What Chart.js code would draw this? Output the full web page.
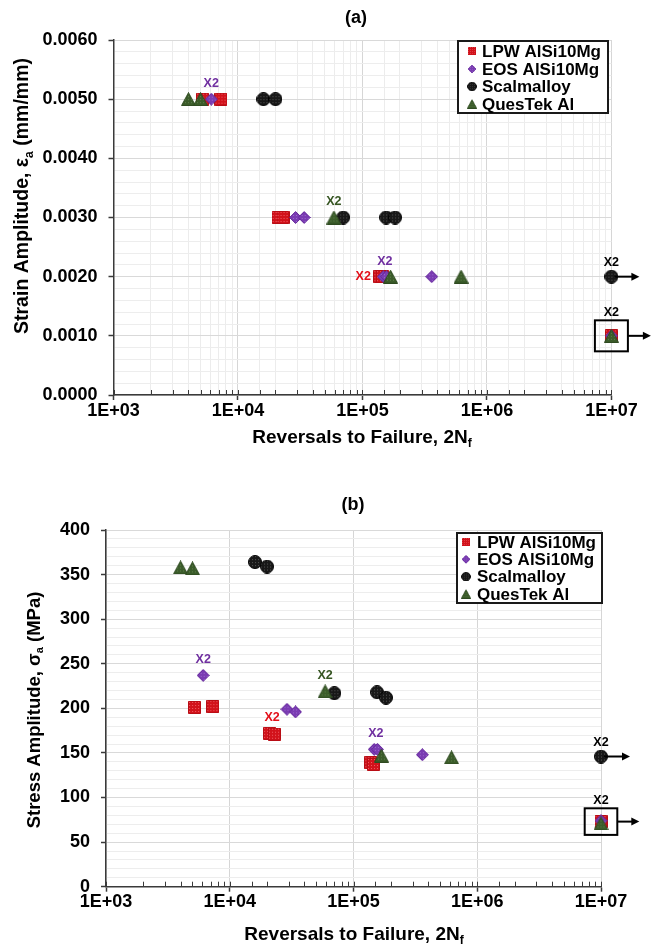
<!DOCTYPE html>
<html>
<head>
<meta charset="utf-8">
<title>Strain-life and stress-life of additively manufactured aluminium alloys</title>
<script src="https://cdn.jsdelivr.net/npm/chart.js@4.4.1/dist/chart.umd.min.js"></script>
<style>
  html, body { margin: 0; padding: 0; background: #ffffff; }
  #page { position: relative; width: 656px; height: 947px; overflow: hidden; }
  #page canvas { position: absolute; left: 0; }
  #strainChart { top: 0; }
  #stressChart { top: 470px; }
</style>
</head>
<body>
<div id="page">
  <canvas id="strainChart" width="656" height="470"></canvas>
  <canvas id="stressChart" width="656" height="477"></canvas>
</div>
<script>
// ---------------- data ----------------
const seriesNames = ['LPW AlSi10Mg', 'EOS AlSi10Mg', 'Scalmalloy', 'QuesTek Al'];

// reversals to failure, 2Nf (1E+07 = run-out)
const lpwReversals     = [5200, 7300, 21000, 23000, 138000, 145000, 1e7];
const eosReversals     = [6100, 29000, 34000, 147000, 156000, 360000, 1e7];
const scalReversals    = [16000, 20000, 70000, 155000, 183000, 1e7];
const questekReversals = [4000, 5000, 59000, 168000, 620000, 1e7];

// strain amplitude (mm/mm)
const lpwStrain     = [0.005, 0.005, 0.003, 0.003, 0.002, 0.002, 0.001];
const eosStrain     = [0.005, 0.003, 0.003, 0.002, 0.002, 0.002, 0.001];
const scalStrain    = [0.005, 0.005, 0.003, 0.003, 0.003, 0.002];
const questekStrain = [0.005, 0.005, 0.003, 0.002, 0.002, 0.001];

// stress amplitude (MPa)
const lpwStress     = [201, 202, 172, 171, 139, 137, 73];
const eosStress     = [237, 199, 196, 154, 154, 148, 74];
const scalStress    = [364, 359, 217, 218, 212, 146];
const questekStress = [358, 357, 219, 147, 145, 71];

// tick labels
const xTickLabels      = ['1E+03', '1E+04', '1E+05', '1E+06', '1E+07'];
const strainTickLabels = ['0.0000', '0.0010', '0.0020', '0.0030', '0.0040', '0.0050', '0.0060'];
const stressTickLabels = ['0', '50', '100', '150', '200', '250', '300', '350', '400'];

// "X2" call-outs: series index and the point indices that share the label
const strainCallouts = [
  { series: 1, points: [0], place: 'above' },
  { series: 3, points: [2], place: 'above' },
  { series: 0, points: [4, 5], place: 'left' },
  { series: 1, points: [3, 4], place: 'above' }
];
const stressCallouts = [
  { series: 1, points: [0], place: 'above' },
  { series: 3, points: [2], place: 'above' },
  { series: 0, points: [2, 3], place: 'above' },
  { series: 1, points: [3, 4], place: 'above' }
];
// run-outs: tests stopped at 1E+07 reversals without failure
const runouts = [
  { series: [2], points: [5], boxed: false, text: 'X2' },
  { series: [0, 1, 3], points: [6, 6, 5], boxed: true, text: 'X2' }
];

// ---------------- styling ----------------
const FONT = "'Liberation Sans', Arial, Helvetica, sans-serif";
const AXIS_INK = '#3a3a3a';
const reversals = [lpwReversals, eosReversals, scalReversals, questekReversals];

const markerStyles = [
  { shape: 'square',   w: 13, h: 13, base: '#d2121b', dot: '#ef5c64', edge: '#b80d15', ink: '#e3101a' },
  { shape: 'diamond',  w: 13, h: 13, base: '#7a3cb2', dot: '#9d6bd0', edge: '#66299c', ink: '#7030a0' },
  { shape: 'circle',   w: 14, h: 14, base: '#181818', dot: '#555555', edge: '#000000', ink: '#000000' },
  { shape: 'triangle', w: 15, h: 14, base: '#3b5c2a', dot: '#5e7f4b', edge: '#2e4a20', ink: '#375623' }
];

function dottedFill(ctx, base, dot) {
  const p = document.createElement('canvas');
  p.width = 3; p.height = 3;
  const c = p.getContext('2d');
  c.fillStyle = base; c.fillRect(0, 0, 3, 3);
  c.fillStyle = dot; c.fillRect(1, 1, 1, 1);
  return ctx.createPattern(p, 'repeat');
}

function makeMarker(st) {
  const c = document.createElement('canvas');
  c.width = st.w; c.height = st.h;
  const g = c.getContext('2d');
  const w = st.w, h = st.h;
  g.beginPath();
  if (st.shape === 'square') {
    g.rect(0.5, 0.5, w - 1, h - 1);
  } else if (st.shape === 'diamond') {
    g.moveTo(w / 2, 0.5); g.lineTo(w - 0.5, h / 2); g.lineTo(w / 2, h - 0.5); g.lineTo(0.5, h / 2); g.closePath();
  } else if (st.shape === 'circle') {
    g.arc(w / 2, h / 2, w / 2 - 0.5, 0, Math.PI * 2);
  } else {
    g.moveTo(w / 2, 0.5); g.lineTo(w - 0.5, h - 0.5); g.lineTo(0.5, h - 0.5); g.closePath();
  }
  g.fillStyle = dottedFill(g, st.base, st.dot);
  g.fill();
  g.strokeStyle = st.edge; g.lineWidth = 1; g.stroke();
  return c;
}
const markerImages = markerStyles.map(makeMarker);

function isDecade(v) {
  const l = Math.log10(v);
  return Math.abs(l - Math.round(l)) < 1e-6;
}

function drawRich(ctx, parts, cx, cy, size) {
  const main = 'bold ' + size + 'px ' + FONT;
  const sub = 'bold ' + Math.round(size * 0.62) + 'px ' + FONT;
  let total = 0;
  parts.forEach(p => { ctx.font = p.sub ? sub : main; p.w = ctx.measureText(p.t).width; total += p.w; });
  let x = cx - total / 2;
  ctx.textAlign = 'left';
  ctx.textBaseline = 'middle';
  parts.forEach(p => {
    ctx.font = p.sub ? sub : main;
    ctx.fillText(p.t, x, cy + (p.sub ? size * 0.32 : 0));
    x += p.w;
  });
}

function arrow(ctx, x0, y, x1) {
  ctx.beginPath();
  ctx.moveTo(x0, y); ctx.lineTo(x1 - 6, y);
  ctx.lineWidth = 2; ctx.strokeStyle = '#000'; ctx.stroke();
  ctx.beginPath();
  ctx.moveTo(x1, y); ctx.lineTo(x1 - 8, y - 4); ctx.lineTo(x1 - 8, y + 4); ctx.closePath();
  ctx.fillStyle = '#000'; ctx.fill();
}

function overlayPlugin(cfg) {
  return {
    id: 'overlay_' + cfg.key,
    afterDatasetsDraw(chart) {
      const ctx = chart.ctx, xs = chart.scales.x, ys = chart.scales.y;
      const area = chart.chartArea;
      const pt = (s, j) => ({
        x: xs.getPixelForValue(reversals[s][j]),
        y: ys.getPixelForValue(cfg.values[s][j])
      });
      ctx.save();

      // short inner tick marks on the reversal axis
      ctx.strokeStyle = AXIS_INK; ctx.lineWidth = 1;
      xs.ticks.forEach(t => {
        const px = Math.round(xs.getPixelForValue(t.value)) + 0.5;
        ctx.beginPath(); ctx.moveTo(px, area.bottom); ctx.lineTo(px, area.bottom - 5); ctx.stroke();
      });

      // "X2" call-outs
      ctx.font = 'bold 12.5px ' + FONT;
      ctx.textBaseline = 'middle';
      cfg.callouts.forEach(c => {
        const ps = c.points.map(j => pt(c.series, j));
        ctx.fillStyle = markerStyles[c.series].ink;
        if (c.place === 'left') {
          const minX = Math.min(...ps.map(p => p.x));
          ctx.textAlign = 'right';
          ctx.fillText('X2', minX - 9, ps[0].y);
        } else {
          const mx = ps.reduce((a, p) => a + p.x, 0) / ps.length;
          const minY = Math.min(...ps.map(p => p.y));
          ctx.textAlign = 'center';
          ctx.fillText('X2', mx, minY - 15.5);
        }
      });

      // run-out markers with arrows
      runouts.forEach(r => {
        const ps = r.series.map((s, k) => pt(s, r.points[k]));
        const px = ps[0].x, py = ps[0].y;
        ctx.fillStyle = '#000';
        ctx.font = 'bold 12.5px ' + FONT;
        ctx.textAlign = 'center';
        ctx.textBaseline = 'middle';
        if (r.boxed) {
          const b = cfg.runBox;
          ctx.lineWidth = 2; ctx.strokeStyle = '#000';
          ctx.strokeRect(px - b.hw, py - b.hh, b.hw * 2, b.hh * 2);
          ctx.fillText(r.text, px, py - b.hh - 8);
          arrow(ctx, px + b.hw, py, px + b.hw + cfg.boxArrow);
        } else {
          ctx.fillText(r.text, px, py - 14);
          arrow(ctx, px + 3, py, px + cfg.circleArrow);
        }
      });

      // legend
      const L = cfg.legend;
      ctx.fillStyle = '#ffffff';
      ctx.fillRect(L.x, L.y, L.w, L.h);
      ctx.lineWidth = 2; ctx.strokeStyle = '#1a1a1a';
      ctx.strokeRect(L.x, L.y, L.w, L.h);
      ctx.font = 'bold 17px ' + FONT;
      ctx.textAlign = 'left'; ctx.textBaseline = 'middle';
      ctx.fillStyle = '#000';
      seriesNames.forEach((name, i) => {
        const img = markerImages[i], s = 0.68;
        const w = img.width * s, h = img.height * s;
        ctx.drawImage(img, L.markerX - w / 2, L.rows[i] - h / 2, w, h);
        ctx.fillText(name, L.textX, L.rows[i] + 1);
      });
      ctx.restore();
    },
    afterDraw(chart) {
      const ctx = chart.ctx;
      ctx.save();
      ctx.fillStyle = '#000';
      // panel title
      ctx.font = 'bold 18px ' + FONT;
      ctx.textAlign = 'center'; ctx.textBaseline = 'middle';
      ctx.fillText(cfg.title, cfg.titleX, cfg.titleY);
      // axis titles
      drawRich(ctx, cfg.xTitle, cfg.xTitleX, cfg.xTitleY, cfg.xTitleSize);
      ctx.save();
      ctx.translate(cfg.yTitleX, cfg.yTitleY);
      ctx.rotate(-Math.PI / 2);
      drawRich(ctx, cfg.yTitle, 0, 0, cfg.yTitleSize);
      ctx.restore();
      ctx.restore();
    }
  };
}

function buildChart(canvasId, cfg) {
  const datasets = seriesNames.map((name, i) => ({
    label: name,
    data: reversals[i].map((x, j) => ({ x: x, y: cfg.values[i][j] })),
    pointStyle: markerImages[i],
    pointRadius: 7,
    pointHoverRadius: 7,
    showLine: false,
    clip: false,
    order: 4 - i
  }));
  const A = cfg.area;
  return new Chart(document.getElementById(canvasId), {
    type: 'scatter',
    data: { datasets: datasets },
    options: {
      responsive: false,
      animation: false,
      devicePixelRatio: 1,
      events: [],
      layout: { padding: { top: A.top, right: cfg.width - A.right, bottom: 0, left: 0 } },
      plugins: { legend: { display: false }, tooltip: { enabled: false }, title: { display: false } },
      scales: {
        x: {
          type: 'logarithmic',
          min: 1e3, max: 1e7,
          afterFit(s) { s.height = cfg.height - A.bottom; },
          border: { display: true, color: AXIS_INK, width: 1.5 },
          grid: {
            color: c => isDecade(c.tick.value) ? '#d6d6d6' : (cfg.xMinorGrid ? '#ececec' : 'rgba(0,0,0,0)'),
            lineWidth: 1,
            tickLength: 5,
            tickWidth: 1.5,
            tickColor: c => isDecade(c.tick.value) ? AXIS_INK : 'rgba(0,0,0,0)'
          },
          ticks: {
            autoSkip: false, maxRotation: 0, minRotation: 0, padding: 0,
            color: '#000',
            font: { family: FONT, size: 18, weight: 'bold' },
            callback: v => isDecade(v) ? xTickLabels[Math.round(Math.log10(v)) - 3] : ''
          }
        },
        y: {
          type: 'linear',
          min: cfg.yMin, max: cfg.yMax,
          afterFit(s) { s.width = A.left; },
          border: { display: true, color: AXIS_INK, width: 1.5 },
          grid: {
            color: c => cfg.isMajorY(c.tick.value) ? '#d9d9d9' : '#ededed',
            lineWidth: 1,
            tickLength: 5,
            tickWidth: 1.5,
            tickColor: c => cfg.isMajorY(c.tick.value) ? AXIS_INK : 'rgba(0,0,0,0)'
          },
          ticks: {
            stepSize: cfg.minorStep,
            autoSkip: false,
            padding: 11,
            color: '#000',
            font: { family: FONT, size: 18, weight: 'bold' },
            callback: v => cfg.isMajorY(v) ? cfg.tickLabels[Math.round(v / cfg.majorStep)] : ''
          }
        }
      }
    },
    plugins: [overlayPlugin(cfg)]
  });
}

// (a) strain amplitude vs reversals
buildChart('strainChart', {
  key: 'a', width: 656, height: 470,
  area: { left: 113.5, right: 611.4, top: 40, bottom: 395 },
  values: [lpwStrain, eosStrain, scalStrain, questekStrain],
  yMin: 0, yMax: 0.006, minorStep: 0.0002, majorStep: 0.001,
  isMajorY: v => Math.round(v * 10000) % 10 === 0,
  tickLabels: strainTickLabels,
  xMinorGrid: true,
  callouts: strainCallouts,
  runBox: { hw: 16.5, hh: 15.5 }, boxArrow: 23, circleArrow: 28,
  title: '(a)', titleX: 356, titleY: 18,
  xTitle: [{ t: 'Reversals to Failure, 2N' }, { t: 'f', sub: true }], xTitleX: 362, xTitleY: 438, xTitleSize: 19,
  yTitle: [{ t: 'Strain Amplitude, ε' }, { t: 'a', sub: true }, { t: ' (mm/mm)' }], yTitleX: 23, yTitleY: 196, yTitleSize: 19.5,
  legend: { x: 458, y: 41, w: 150, h: 72, markerX: 472, textX: 482, rows: [51, 69, 86.5, 104] }
});

// (b) stress amplitude vs reversals
buildChart('stressChart', {
  key: 'b', width: 656, height: 477,
  area: { left: 106, right: 601, top: 60, bottom: 416.7 },
  values: [lpwStress, eosStress, scalStress, questekStress],
  yMin: 0, yMax: 400, minorStep: 10, majorStep: 50,
  isMajorY: v => Math.round(v) % 50 === 0,
  tickLabels: stressTickLabels,
  xMinorGrid: false,
  callouts: stressCallouts,
  runBox: { hw: 16.3, hh: 13.3 }, boxArrow: 22, circleArrow: 29,
  title: '(b)', titleX: 353, titleY: 35,
  xTitle: [{ t: 'Reversals to Failure, 2N' }, { t: 'f', sub: true }], xTitleX: 354, xTitleY: 465, xTitleSize: 19,
  yTitle: [{ t: 'Stress Amplitude, σ' }, { t: 'a', sub: true }, { t: ' (MPa)' }], yTitleX: 34.5, yTitleY: 240, yTitleSize: 18.5,
  legend: { x: 457, y: 63, w: 145, h: 70, markerX: 466, textX: 477, rows: [72, 89.3, 106.7, 124] }
});
</script>
</body>
</html>
